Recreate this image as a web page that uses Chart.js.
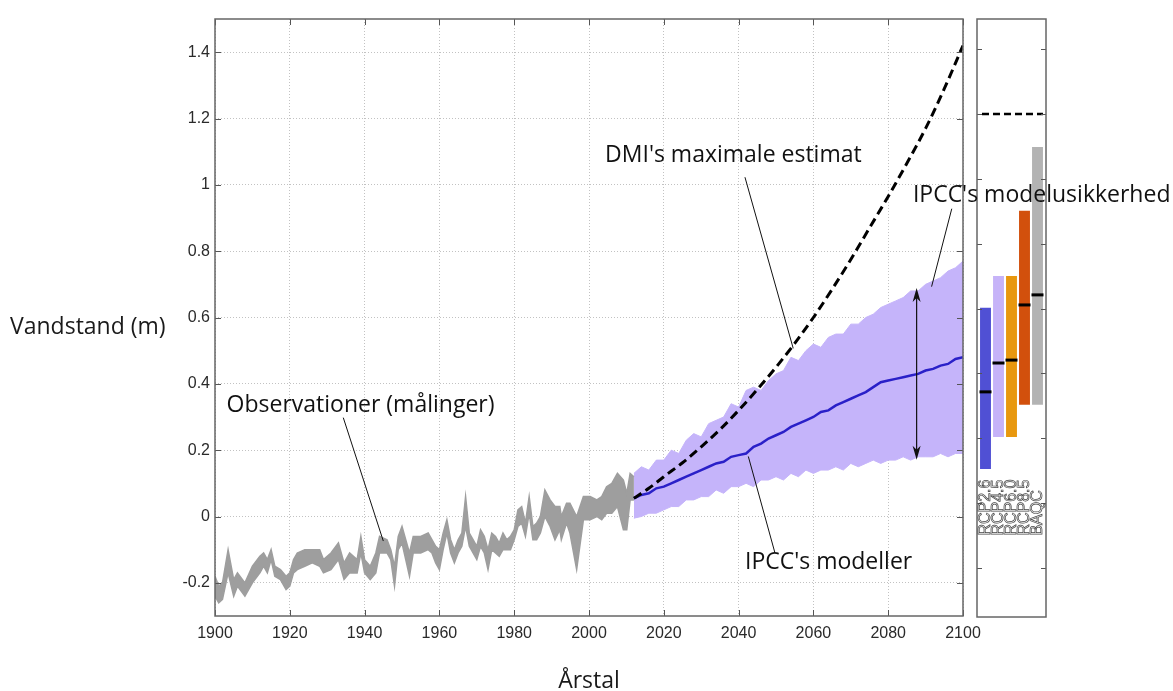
<!DOCTYPE html>
<html lang="da">
<head>
<meta charset="utf-8">
<title>Vandstand</title>
<script src="https://cdn.jsdelivr.net/npm/chart.js@4.4.1/dist/chart.umd.min.js"></script>
<style>
  html, body { margin: 0; padding: 0; background: #fff; }
  #wrap { position: relative; width: 1173px; height: 691px; }
  #panel { position: absolute; left: 960px; top: 0; }
  #hoved { position: absolute; left: 0; top: 0; }
</style>
</head>
<body>
<div id="wrap">
  <canvas id="panel" width="100" height="691"></canvas>
  <canvas id="hoved" width="1173" height="691"></canvas>
</div>
<script>
// Observationer (målinger): øvre og nedre kant af det grå bånd
const obsAar = [1900, 1901, 1902, 1903.5, 1905, 1906, 1908, 1910, 1912, 1913, 1914, 1915, 1916, 1917.5, 1919,
  1920, 1921, 1922, 1924, 1926, 1928, 1929, 1931, 1933, 1934.5, 1936, 1938, 1939, 1940, 1941.5, 1943, 1944,
  1946, 1947, 1948, 1949, 1950, 1951, 1952, 1953, 1955, 1957, 1958, 1959, 1960, 1961, 1962, 1963, 1964, 1965,
  1966, 1967, 1968, 1969, 1970, 1971, 1972, 1973, 1974, 1975, 1976, 1977, 1978, 1979, 1980, 1981, 1982, 1983,
  1984, 1985, 1986, 1987, 1988.2, 1989.6, 1990.9, 1992.2, 1992.6, 1994, 1994.9, 1996.7, 1998.5, 2000.3, 2002.1,
  2003.4, 2004.7, 2006.1, 2007.6, 2009.2, 2010.1, 2011, 2012];
const obsHoej = [-0.18, -0.21, -0.20, -0.10, -0.19, -0.17, -0.20, -0.15, -0.12, -0.11, -0.13, -0.10, -0.15, -0.16, -0.18,
  -0.17, -0.13, -0.11, -0.10, -0.10, -0.10, -0.13, -0.11, -0.08, -0.14, -0.11, -0.13, -0.06, -0.13, -0.15, -0.11, -0.06,
  -0.07, -0.10, -0.15, -0.06, -0.03, -0.07, -0.11, -0.06, -0.06, -0.05, -0.07, -0.09, -0.10, -0.05, -0.01, -0.07, -0.10, -0.07,
  -0.05, 0.06, -0.05, -0.07, -0.09, -0.04, -0.06, -0.10, -0.05, -0.06, -0.08, -0.05, -0.07, -0.06, -0.04, 0.02, 0.03, -0.02,
  0.06, -0.03, -0.02, 0.00, 0.08, 0.05, 0.03, 0.03, 0.00, 0.04, 0.04, 0.00, 0.06, 0.06, 0.05,
  0.06, 0.09, 0.10, 0.13, 0.11, 0.07, 0.13, 0.12];
const obsLav = [-0.24, -0.26, -0.25, -0.17, -0.24, -0.21, -0.24, -0.20, -0.17, -0.15, -0.17, -0.13, -0.18, -0.19, -0.22,
  -0.21, -0.17, -0.16, -0.15, -0.14, -0.15, -0.17, -0.16, -0.13, -0.19, -0.17, -0.17, -0.11, -0.17, -0.19, -0.17, -0.11,
  -0.11, -0.13, -0.21, -0.10, -0.08, -0.13, -0.18, -0.11, -0.11, -0.10, -0.11, -0.14, -0.16, -0.10, -0.05, -0.11, -0.14, -0.11,
  -0.09, -0.03, -0.09, -0.11, -0.13, -0.09, -0.11, -0.16, -0.10, -0.11, -0.12, -0.10, -0.10, -0.10, -0.07, -0.03, -0.02, -0.06,
  0.01, -0.07, -0.07, -0.05, 0.00, -0.03, -0.07, -0.04, -0.07, -0.02, -0.05, -0.16, -0.01, -0.01, 0.00,
  -0.01, 0.01, 0.01, 0.03, -0.04, -0.04, 0.05, 0.05];

// IPCC's modeller: usikkerhedsbånd og median
const projAar = [2012, 2014, 2016, 2018, 2020, 2022, 2024, 2026, 2028, 2030, 2032, 2034, 2036, 2038, 2040,
  2042, 2044, 2046, 2048, 2050, 2052, 2054, 2056, 2058, 2060, 2062, 2064, 2066, 2068, 2070,
  2072, 2074, 2076, 2078, 2080, 2082, 2084, 2086, 2088, 2090, 2092, 2094, 2096, 2098, 2100];
const projHoej = [0.13, 0.15, 0.14, 0.17, 0.17, 0.20, 0.19, 0.23, 0.25, 0.24, 0.28, 0.29, 0.30, 0.34, 0.33,
  0.38, 0.39, 0.38, 0.41, 0.43, 0.44, 0.48, 0.47, 0.50, 0.52, 0.51, 0.54, 0.55, 0.55, 0.58,
  0.58, 0.60, 0.61, 0.63, 0.64, 0.65, 0.66, 0.68, 0.68, 0.70, 0.71, 0.72, 0.74, 0.75, 0.77];
const projLav = [-0.005, 0.00, 0.01, 0.01, 0.02, 0.03, 0.03, 0.05, 0.05, 0.06, 0.06, 0.08, 0.07, 0.09, 0.09,
  0.10, 0.09, 0.11, 0.11, 0.12, 0.11, 0.13, 0.12, 0.14, 0.13, 0.14, 0.14, 0.15, 0.14, 0.16,
  0.15, 0.16, 0.17, 0.16, 0.17, 0.17, 0.18, 0.17, 0.18, 0.18, 0.18, 0.19, 0.18, 0.19, 0.19];
const projMedian = [0.055, 0.065, 0.07, 0.085, 0.09, 0.10, 0.11, 0.12, 0.13, 0.14, 0.15, 0.16, 0.165, 0.18, 0.185,
  0.19, 0.21, 0.22, 0.235, 0.245, 0.255, 0.27, 0.28, 0.29, 0.30, 0.315, 0.32, 0.335, 0.345, 0.355,
  0.365, 0.375, 0.39, 0.405, 0.41, 0.415, 0.42, 0.425, 0.43, 0.44, 0.445, 0.455, 0.46, 0.475, 0.48];

// DMI's maximale estimat
const dmiAar = [2012, 2016, 2020, 2025, 2030, 2035, 2040, 2045, 2050, 2055, 2060, 2065, 2070, 2075, 2080, 2085, 2090, 2095, 2100];
const dmiVaerdi = [0.055, 0.085, 0.12, 0.162, 0.21, 0.262, 0.32, 0.383, 0.45, 0.522, 0.60, 0.685, 0.775, 0.87, 0.965, 1.065, 1.17, 1.29, 1.42];

// akser
const xTickVaerdier = [1900, 1920, 1940, 1960, 1980, 2000, 2020, 2040, 2060, 2080, 2100];
const yTickVaerdier = [-0.2, 0, 0.2, 0.4, 0.6, 0.8, 1, 1.2, 1.4];

// Højre panel: scenarier i 2100
const scenarier = ['RCP2.6', 'RCP4.5', 'RCP6.0', 'RCP8.5', 'BAQC'];
const scenarieLav = [0.105, 0.204, 0.204, 0.303, 0.303];
const scenarieHoej = [0.602, 0.700, 0.700, 0.901, 1.098];
const scenarieMedian = [0.343, 0.432, 0.441, 0.611, 0.642];
const dmiMaks2100 = 1.2;
const panelTicks = [-0.2, 0, 0.2, 0.4, 0.6, 0.8, 1.0, 1.2, 1.4];

const tilPunkter = (xs, ys) => xs.map((x, i) => ({ x, y: ys[i] }));

const skrift = '"Open Sans", "Noto Sans", sans-serif';
const tickSkrift = { family: '"Liberation Sans", Arial, sans-serif', size: 16 };

// ramme og indadvendte tick-streger
const rammePlugin = {
  id: 'ramme',
  afterDraw(chart) {
    const { ctx, chartArea: a, scales: { x, y } } = chart;
    ctx.save();
    ctx.strokeStyle = '#555';
    ctx.lineWidth = 1;
    ctx.beginPath();
    x.ticks.forEach(t => {
      const px = Math.round(x.getPixelForValue(t.value)) + 0.5;
      ctx.moveTo(px, a.bottom); ctx.lineTo(px, a.bottom - 6);
      ctx.moveTo(px, a.top); ctx.lineTo(px, a.top + 6);
    });
    y.ticks.forEach(t => {
      const py = Math.round(y.getPixelForValue(t.value)) + 0.5;
      ctx.moveTo(a.left, py); ctx.lineTo(a.left + 6, py);
      ctx.moveTo(a.right, py); ctx.lineTo(a.right - 6, py);
    });
    ctx.stroke();
    ctx.strokeStyle = '#666';
    ctx.lineWidth = 1.5;
    ctx.strokeRect(a.left, a.top, a.width, a.height);
    ctx.restore();
  }
};

// tekster og henvisningsstreger
const noter = [
  { tekst: 'Observationer (målinger)', tx: 1903.1, ty: 0.334, fra: [1934.3, 0.298], til: [1945.0, -0.074] },
  { tekst: "DMI's maximale estimat", tx: 2004.3, ty: 1.089, fra: [2041.7, 1.023], til: [2054.6, 0.507] },
  { tekst: "IPCC's modelusikkerhed", tx: 2086.6, ty: 0.968, fra: [2097.0, 0.928], til: [2091.6, 0.693] },
  { tekst: "IPCC's modeller", tx: 2041.7, ty: -0.139, fra: [2042.6, 0.181], til: [2049.7, -0.109] }
];
const pil = { aar: 2087.6, top: 0.689, bund: 0.171 };

const noterPlugin = {
  id: 'noter',
  afterDraw(chart) {
    const { ctx, chartArea: a, scales: { x, y } } = chart;
    ctx.save();
    ctx.strokeStyle = '#111';
    ctx.fillStyle = '#111';
    ctx.lineWidth = 1;
    noter.forEach(n => {
      ctx.beginPath();
      ctx.moveTo(x.getPixelForValue(n.fra[0]), y.getPixelForValue(n.fra[1]));
      ctx.lineTo(x.getPixelForValue(n.til[0]), y.getPixelForValue(n.til[1]));
      ctx.stroke();
    });

    // dobbeltpil for modelusikkerhed
    const px = x.getPixelForValue(pil.aar);
    const p1 = y.getPixelForValue(pil.top);
    const p2 = y.getPixelForValue(pil.bund);
    ctx.lineWidth = 1.2;
    ctx.beginPath();
    ctx.moveTo(px, p1 + 6); ctx.lineTo(px, p2 - 6);
    ctx.stroke();
    const spids = (yy, ret) => {
      ctx.beginPath();
      ctx.moveTo(px, yy);
      ctx.lineTo(px - 4, yy + ret * 14);
      ctx.lineTo(px, yy + ret * 10);
      ctx.lineTo(px + 4, yy + ret * 14);
      ctx.closePath();
      ctx.fill();
    };
    spids(p1, 1);
    spids(p2, -1);

    ctx.font = '23px ' + skrift;
    ctx.textBaseline = 'middle';
    ctx.textAlign = 'left';
    noter.forEach(n => {
      ctx.fillText(n.tekst, x.getPixelForValue(n.tx), y.getPixelForValue(n.ty));
    });

    // aksetitler
    ctx.fillStyle = '#1a1a1a';
    ctx.fillText('Vandstand (m)', 10, a.top + 308);
    ctx.textAlign = 'center';
    ctx.fillText('Årstal', (a.left + a.right) / 2, 681);
    ctx.restore();
  }
};

new Chart(document.getElementById('hoved'), {
  type: 'line',
  data: {
    datasets: [
      {
        label: "DMI's maximale estimat",
        data: tilPunkter(dmiAar, dmiVaerdi),
        borderColor: '#000',
        borderWidth: 3,
        borderDash: [9, 5],
        pointRadius: 0,
        cubicInterpolationMode: 'monotone',
        fill: false
      },
      {
        label: "IPCC's modeller",
        data: tilPunkter(projAar, projMedian),
        borderColor: '#2a20c8',
        borderWidth: 2.5,
        pointRadius: 0,
        fill: false
      },
      {
        label: 'Observationer høj',
        data: tilPunkter(obsAar, obsHoej),
        borderColor: '#9e9e9e',
        backgroundColor: '#9e9e9e',
        borderWidth: 1.5,
        pointRadius: 0,
        fill: '+1'
      },
      {
        label: 'Observationer lav',
        data: tilPunkter(obsAar, obsLav),
        borderColor: '#9e9e9e',
        borderWidth: 1.5,
        pointRadius: 0,
        fill: false
      },
      {
        label: 'Usikkerhed høj',
        data: tilPunkter(projAar, projHoej),
        borderColor: '#c5b4fa',
        backgroundColor: '#c5b4fa',
        borderWidth: 1,
        pointRadius: 0,
        fill: '+1'
      },
      {
        label: 'Usikkerhed lav',
        data: tilPunkter(projAar, projLav),
        borderColor: '#c5b4fa',
        borderWidth: 1,
        pointRadius: 0,
        fill: false
      }
    ]
  },
  options: {
    responsive: false,
    animation: false,
    layout: { padding: { left: 0, right: 210, top: 19, bottom: 0 } },
    plugins: { legend: { display: false }, tooltip: { enabled: false } },
    scales: {
      x: {
        type: 'linear',
        min: 1900,
        max: 2100,
        afterFit: s => { s.height = 75; },
        afterBuildTicks: s => { s.ticks = xTickVaerdier.map(v => ({ value: v })); },
        grid: { color: '#c2c2c2', lineWidth: 1, drawTicks: false },
        border: { display: false, dash: [1, 2] },
        ticks: { padding: 8, color: '#2a2a2a', font: tickSkrift, callback: v => String(v) }
      },
      y: {
        type: 'linear',
        min: -0.3,
        max: 1.5,
        afterFit: s => { s.width = 215; },
        afterBuildTicks: s => { s.ticks = yTickVaerdier.map(v => ({ value: v })); },
        grid: { color: '#c2c2c2', lineWidth: 1, drawTicks: false },
        border: { display: false, dash: [1, 2] },
        ticks: { padding: 5, color: '#2a2a2a', font: tickSkrift, callback: v => String(Math.round(v * 10) / 10) }
      }
    }
  },
  plugins: [rammePlugin, noterPlugin]
});

// højre panel med scenarier; rammen ligger 2 px uden for plotområdet
const panelPlugin = {
  id: 'panelRamme',
  afterDraw(chart) {
    const { ctx, chartArea: a, scales: { x, y } } = chart;
    const venstre = a.left - 2;
    const hoejre = a.right + 2;
    ctx.save();
    ctx.strokeStyle = '#555';
    ctx.lineWidth = 1;
    ctx.beginPath();
    panelTicks.forEach(v => {
      const py = Math.round(y.getPixelForValue(v)) + 0.5;
      ctx.moveTo(venstre, py); ctx.lineTo(venstre + 5, py);
      ctx.moveTo(hoejre, py); ctx.lineTo(hoejre - 5, py);
    });
    ctx.stroke();
    ctx.strokeStyle = '#666';
    ctx.lineWidth = 1.5;
    ctx.strokeRect(venstre, a.top, hoejre - venstre, a.height);

    // lodrette scenarienavne
    ctx.font = '16px "Liberation Sans", Arial, sans-serif';
    ctx.textAlign = 'left';
    ctx.textBaseline = 'middle';
    ctx.strokeStyle = '#444';
    ctx.lineWidth = 0.7;
    const bundTekst = y.getPixelForValue(-0.1);
    scenarier.forEach((navn, i) => {
      ctx.save();
      ctx.translate(x.getPixelForValue(i), bundTekst);
      ctx.rotate(-Math.PI / 2);
      ctx.strokeText(navn, 0, 0);
      ctx.restore();
    });
    ctx.restore();
  }
};

new Chart(document.getElementById('panel'), {
  type: 'bar',
  data: {
    labels: scenarier,
    datasets: [
      {
        type: 'line',
        label: 'Median',
        data: scenarieMedian,
        showLine: false,
        pointStyle: 'line',
        pointRadius: 6,
        pointBorderWidth: 3,
        pointBorderColor: '#000'
      },
      {
        type: 'line',
        label: 'DMI maks',
        xAxisID: 'xd',
        data: [{ x: -0.27, y: dmiMaks2100 }, { x: 4.42, y: dmiMaks2100 }],
        borderColor: '#000',
        borderWidth: 2.5,
        borderDash: [7, 4],
        pointRadius: 0
      },
      {
        type: 'bar',
        label: 'Interval',
        data: scenarier.map((_, i) => [scenarieLav[i], scenarieHoej[i]]),
        backgroundColor: ['#5050d4', '#c6b3f8', '#e8980f', '#d2500c', '#b3b3b3'],
        grouped: false,
        categoryPercentage: 1,
        barPercentage: 0.84
      }
    ]
  },
  options: {
    responsive: false,
    animation: false,
    layout: { padding: { left: 19, right: 16, top: 19, bottom: 74 } },
    plugins: { legend: { display: false }, tooltip: { enabled: false } },
    scales: {
      x: { display: false, offset: true },
      xd: { type: 'linear', display: false, offset: false, grid: { offset: false }, min: -0.5, max: 4.5 },
      y: { display: false, min: -0.351, max: 1.4925 }
    }
  },
  plugins: [panelPlugin]
});
</script>
</body>
</html>
